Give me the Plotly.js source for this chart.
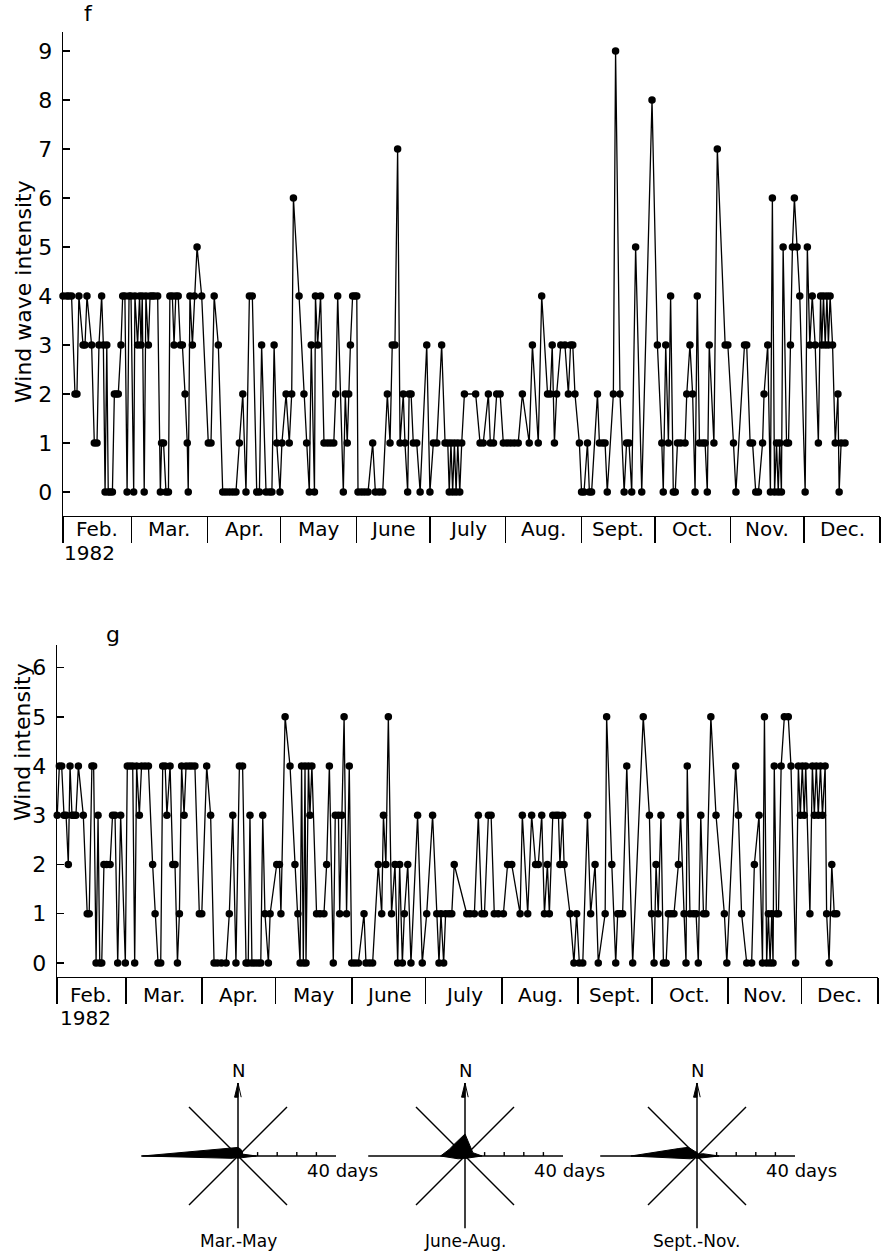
<!DOCTYPE html>
<html><head><meta charset="utf-8">
<script src="https://cdn.plot.ly/plotly-3.0.1.min.js"></script>
<style>html,body{margin:0;padding:0;background:#fff}</style>
</head><body><div id="chart" style="width:893px;height:1251px"></div>
<script>
// ---- categories / tick labels ----
const months = ['Feb.','Mar.','Apr.','May','June','July','Aug.','Sept.','Oct.','Nov.','Dec.'];
const monthEdges = [0,28,59,89,120,150,181,212,242,273,303,334]; // days since 1 Feb 1982
const yearLabel = '1982';

// ---- panel f: wind wave intensity (day since 1 Feb, value) ----
const fDay = [0,1.5,2.4,3.5,4.9,5.7,6.5,8.2,9.0,9.8,
11.7,12.8,13.9,14.7,15.8,16.5,17.2,17.9,18.5,19.3,
20.2,21.0,21.8,22.6,23.7,24.4,25.3,26.2,27.0,27.8,
28.9,29.4,30.5,31.3,31.9,32.4,33.2,33.9,34.9,35.6,
36.5,37.3,38.7,39.8,40.3,41.1,42.1,43.1,43.7,44.7,
45.4,46.1,47.1,48.0,48.8,49.9,50.8,51.2,51.9,52.9,
53.7,54.8,56.7,59.4,60.5,61.8,63.5,
65.3,66.6,68.0,69.4,70.7,72.1,73.5,74.8,76.2,77.4,
79.2,80.3,81.2,83.0,84.4,85.4,86.3,87.4,88.7,89.5,
91.2,92.5,93.5,94.2,96.5,98.5,99.6,100.7,101.5,102.8,
103.2,104.1,105.3,106.7,108.1,109.4,110.7,111.5,112.3,114.6,
115.4,116.2,116.8,117.5,118.4,119.3,120.1,120.6,122.0,123.3,
124.7,126.6,127.7,129.3,130.7,132.6,133.7,
134.6,135.7,136.8,137.8,139.1,139.8,140.9,141.5,142.3,143.2,
144.6,146.0,148.7,150.0,151.4,152.8,154.8,156.2,157.3,157.9,
158.6,159.3,160.0,160.7,161.4,162.2,163.0,164.1,168.7,170.5,
171.8,173.9,174.7,176.0,177.3,178.7,180.0,181.5,183.0,184.5,
186.1,187.8,190.6,191.9,194.3,195.7,198.1,199.2,200.0,200.9,
201.8,
203.5,205.2,206.6,207.5,208.4,209.3,211.1,212.0,213.0,214.4,
215.2,216.1,218.5,219.3,220.6,221.6,222.5,225.0,225.9,227.7,
229.4,230.4,231.4,232.5,234.1,236.6,240.8,243.0,244.8,245.4,
246.4,247.5,248.4,249.5,250.3,251.2,252.5,254.3,255.0,256.3,
257.4,258.4,259.3,260.2,261.5,262.5,263.4,264.2,266.1,267.5,
270.7,271.8,274.1,275.1,278.6,279.5,280.9,281.9,283.2,284.3,
286.0,286.6,288.1,289.2,290.0,290.9,291.7,292.4,293.0,293.7,
294.4,295.8,296.6,297.4,298.2,299.0,300.1,301.2,303.4,304.3,
305.3,306.3,307.5,308.8,309.7,310.2,310.9,311.6,312.3,312.9,
313.6,314.6,315.7,316.8,317.3,318.1,319.7];
const fVal = [4,4,4,4,2,2,4,3,3,4, 3,1,1,3,4,3,0,3,0,0, 0,2,2,2,3,4,4,0,4,4, 0,4,3,4,3,4,0,4,3,4, 4,4,4,0,1,1,0,0,4,4, 3,4,4,3,3,2,1,0,4,3, 4,5,4,1,1,4,3,
0,0,0,0,0,1,2,0,4,4, 0,0,3,0,0,0,3,1,0,1, 2,1,2,6,4,2,1,0,3,0, 4,3,4,1,1,1,1,2,4,0, 2,1,2,3,4,4,4,0,0,0, 0,1,0,0,0,2,1,
3,3,7,1,2,1,0,2,2,1, 1,0,3,0,1,1,3,1,1,0, 1,0,1,0,1,0,1,2,2,1, 1,2,1,1,2,2,1,1,1,1, 1,2,1,3,1,4,2,2,3,1, 2,
3,3,2,3,3,2,1,0,0,1, 0,0,2,1,1,1,0,2,9,2, 0,1,1,0,5,0,8,3,1,0, 3,1,4,0,0,1,1,1,2,3, 2,0,4,1,1,1,0,3,1,7,
3,3,1,0,3,3,1,1,0,0, 1,2,3,0,6,0,1,0,1,0, 5,1,1,3,5,6,5,4,0,5, 3,4,3,1,4,3,4,3,4,3, 4,3,1,2,0,1,1];

// ---- panel g: wind intensity ----
const gDay = [0.1,0.95,1.9,2.85,3.7,4.6,5.3,6.1,6.9,7.7,
8.7,10.7,12.3,13.1,14.2,14.9,15.9,16.7,17.4,18.2,
19.1,20.2,21.6,22.6,23.6,24.7,25.9,27.8,28.6,29.7,
30.8,31.6,32.4,33.5,34.4,35.8,37.2,38.9,39.9,41.1,
42.2,43.0,44.0,44.7,46.0,47.1,48.0,49.0,49.8,50.7,
51.7,52.5,53.8,54.9,56.1,57.9,58.9,60.9,62.5,63.9,
65.2,66.9,68.8,70.1,
71.5,72.8,74.2,75.5,76.9,77.8,78.5,79.3,80.5,81.8,
82.9,83.7,84.6,86.0,86.7,89.4,90.5,91.1,92.8,94.8,
96.8,98.0,98.9,99.5,100.2,100.9,101.3,102.3,102.9,103.7,
105.6,107.0,108.6,109.7,110.8,112.4,113.2,114.5,115.0,115.9,
116.8,117.8,118.9,119.9,121.2,122.6,124.9,125.7,127.1,128.4,
130.7,132.1,132.8,133.8,134.8,136.1,137.5,
138.6,139.4,140.5,141.3,142.7,144.0,146.7,148.6,150.4,152.8,
154.5,155.4,156.2,157.3,158.1,159.5,160.6,161.6,166.7,168.0,
169.8,171.4,172.8,173.9,175.5,176.6,177.9,179.5,181.6,183.3,
185.0,188.4,189.3,191.5,193.1,194.7,195.8,197.2,198.3,199.5,
200.3,201.7,203.0,
204.0,204.6,205.7,206.3,208.7,210.3,211.4,212.5,213.9,215.8,
217.1,218.9,220.2,223.0,223.6,225.7,227.3,228.1,229.0,230.1,
231.8,234.2,238.5,241.0,241.9,242.9,243.7,244.6,245.7,246.7,
247.8,248.7,249.8,251.0,252.8,253.7,255.1,255.9,256.4,257.5,
258.9,260.0,260.9,261.9,263.0,264.0,266.0,268.1,
271.5,272.5,276.1,277.2,278.5,280.6,282.6,283.7,285.6,287.0,
287.8,288.7,289.4,290.1,290.8,291.3,291.8,292.7,293.5,294.6,
295.9,297.5,298.6,300.5,301.6,302.4,303.2,304.0,304.6,306.3,
307.3,308.1,308.9,309.7,310.6,311.4,312.5,313.1,314.1,315.2,
316.2,317.2];
const gVal = [3,4,4,3,3,2,4,3,3,3, 4,3,1,1,4,4,0,3,0,0, 2,2,2,3,3,0,3,0,4,4, 4,0,4,3,4,4,4,2,1,0, 0,4,4,3,4,2,2,0,1,4, 3,4,4,4,4,1,1,4,3,0, 0,0,0,1,
3,0,4,4,0,0,3,0,0,0, 0,3,1,0,1,2,2,1,5,4, 2,1,0,4,0,4,0,4,3,4, 1,1,1,2,4,0,3,3,1,3, 5,1,4,0,0,0,1,0,0,0, 2,1,3,2,5,1,2,
0,2,0,1,2,0,3,0,1,3, 1,0,1,0,1,1,1,2,1,1, 1,3,1,1,3,3,1,1,1,2, 2,1,3,1,3,2,2,3,1,2, 1,3,3,
3,2,3,2,1,0,1,0,0,3, 1,2,0,1,5,2,0,1,1,1, 4,0,5,3,1,0,2,1,3,0, 0,1,1,1,2,3,1,0,4,1, 1,1,0,3,1,1,5,3,
1,0,4,3,1,0,0,2,3,0, 5,0,1,0,1,0,4,1,1,4, 5,5,4,0,4,3,4,3,4,1, 4,3,4,3,4,3,4,1,0,2, 1,1];

// ---- wind roses: days per direction (16 points, clockwise from N) ----
const roseDirs = ['N','NNE','NE','ENE','E','ESE','SE','SSE','S','SSW','SW','WSW','W','WNW','NW','NNW'];
const roseSeasons = ['Mar.-May','June-Aug.','Sept.-Nov.'];
const roseMarMay  = [3.5,3,2.5,2,7.5,1.5,1,1,1,1,1,2.5,39,7.5,4.5,3.5];
const roseJunAug  = [9,5,4,3.5,7,2,1.5,1,1,1,1.5,3,10,7,6.5,7];
const roseSepNov  = [1.5,1,1,2.5,9,2,1,1,1,1,1,3,27,8,5,2];
const roseScaleDays = 40;

// ---------------- drawing ----------------
const W = 893, H = 1251;
const PX = x => x / W, PY = y => 1 - y / H;
const FONT = 'DejaVu Sans';
const BLACK = '#000';

function mids(e){ const m=[]; for(let i=0;i<e.length-1;i++) m.push((e[i]+e[i+1])/2); return m; }

function timeX(domainPx, anchor){
  return {domain:[PX(domainPx[0]),PX(domainPx[1])], range:[0,334], anchor:anchor,
    showline:true, linecolor:BLACK, linewidth:1.4, showgrid:false, zeroline:false,
    tickmode:'array', tickvals:monthEdges, ticks:'outside', ticklen:26, tickwidth:1.4, tickcolor:BLACK,
    showticklabels:false, fixedrange:true};
}
function valY(domainPx, range, n, anchor){
  const tv=[]; for(let i=0;i<=n;i++) tv.push(i);
  return {domain:[PY(domainPx[1]),PY(domainPx[0])], range:range, anchor:anchor,
    showline:true, linecolor:BLACK, linewidth:1.4, showgrid:false, zeroline:false,
    tickmode:'array', tickvals:tv, ticks:'inside', ticklen:7, tickwidth:1.4, tickcolor:BLACK,
    ticklabelstandoff:5, tickfont:{family:FONT,size:22,color:BLACK}, fixedrange:true};
}

const traces = [
  {x:fDay, y:fVal, xaxis:'x', yaxis:'y', type:'scatter', mode:'lines+markers', cliponaxis:false,
   line:{color:BLACK,width:1.3}, marker:{color:BLACK,size:7.5}, hoverinfo:'skip'},
  {x:gDay, y:gVal, xaxis:'x2', yaxis:'y2', type:'scatter', mode:'lines+markers', cliponaxis:false,
   line:{color:BLACK,width:1.3}, marker:{color:BLACK,size:7.5}, hoverinfo:'skip'}
];

const roses = [roseMarMay, roseJunAug, roseSepNov];
const roseCenters = [238, 465, 697];
const layout = {
  width:W, height:H, margin:{l:0,r:0,t:0,b:0}, paper_bgcolor:'#fff', plot_bgcolor:'rgba(0,0,0,0)',
  showlegend:false, font:{family:FONT,color:BLACK},
  xaxis: timeX([63,880],'y'),
  yaxis: valY([32,516], [-0.49, 9.39], 9, 'x'),
  xaxis2: timeX([57,878],'y2'),
  yaxis2: valY([645,977], [-0.285, 6.46], 6, 'x2'),
  annotations:[
    {text:'f', xref:'paper', yref:'paper', x:PX(88), y:PY(14), xanchor:'center', yanchor:'middle', showarrow:false, font:{size:22}},
    {text:'g', xref:'paper', yref:'paper', x:PX(113), y:PY(634), xanchor:'center', yanchor:'middle', showarrow:false, font:{size:22}},
    {text:'Wind wave intensity', xref:'paper', yref:'paper', x:PX(24), y:PY(292), xanchor:'center', yanchor:'middle', textangle:-90, showarrow:false, font:{size:22}},
    {text:'Wind intensity', xref:'paper', yref:'paper', x:PX(22), y:PY(742), xanchor:'center', yanchor:'middle', textangle:-90, showarrow:false, font:{size:22}},
    {text:yearLabel, xref:'paper', yref:'paper', x:PX(89), y:PY(553), xanchor:'center', yanchor:'middle', showarrow:false, font:{size:20}},
    {text:yearLabel, xref:'paper', yref:'paper', x:PX(85), y:PY(1018), xanchor:'center', yanchor:'middle', showarrow:false, font:{size:20}}
  ]
};

// month names inside the label band of each time axis
mids(monthEdges).forEach((m,i) => {
  layout.annotations.push({text:months[i], xref:'x', yref:'paper', x:m, y:PY(529), xanchor:'center', yanchor:'middle', showarrow:false, font:{size:20}});
  layout.annotations.push({text:months[i], xref:'x2', yref:'paper', x:m, y:PY(995), xanchor:'center', yanchor:'middle', showarrow:false, font:{size:20}});
});

const PXPERDAY = 2.45;
roses.forEach((counts, i) => {
  const n = i + 3, xa = 'x' + n, ya = 'y' + n;
  const c = roseCenters[i];
  layout['xaxis' + n] = {domain:[PX(c-110),PX(c+110)], range:[-110/PXPERDAY,110/PXPERDAY], visible:false, anchor:ya, fixedrange:true};
  layout['yaxis' + n] = {domain:[0,PY(1050)], range:[-(H-1156)/PXPERDAY,(1156-1050)/PXPERDAY], visible:false, anchor:xa, fixedrange:true};
  // rose polygon
  const px=[], py=[];
  counts.forEach((r,k)=>{ const a = k*22.5*Math.PI/180; px.push(r*Math.sin(a)); py.push(r*Math.cos(a)); });
  px.push(px[0]); py.push(py[0]);
  traces.push({x:px, y:py, xaxis:xa, yaxis:ya, type:'scatter', mode:'lines', fill:'toself',
    fillcolor:BLACK, line:{color:BLACK,width:1}, hoverinfo:'skip'});
  // compass frame
  traces.push({x:[-39.5,roseScaleDays,null,0,0,null,-20,20,null,-20,20],
               y:[0,0,null,-29.5,29.8,null,20,-20,null,-20,20],
               xaxis:xa, yaxis:ya, type:'scatter', mode:'lines', line:{color:BLACK,width:1.5}, hoverinfo:'skip'});
  // scale ticks on east arm
  const tx=[], ty=[];
  for (let d=8; d<roseScaleDays; d+=8){ tx.push(d,d,null); ty.push(0,1.6,null); }
  traces.push({x:tx, y:ty, xaxis:xa, yaxis:ya, type:'scatter', mode:'lines', line:{color:BLACK,width:1.4}, hoverinfo:'skip'});
  // north arrow flag
  traces.push({x:[0,-1.4,0,0,1.3], y:[29.8,24,24,29.8,24], xaxis:xa, yaxis:ya, type:'scatter', mode:'lines',
    fill:'toself', fillcolor:BLACK, line:{color:BLACK,width:1}, hoverinfo:'skip'});
  layout.annotations.push(
    {text:'N', xref:xa, yref:ya, x:0, y:35, showarrow:false, font:{size:18}},
    {text:roseScaleDays + ' days', xref:xa, yref:ya, x:42.5, y:-5.8, showarrow:false, font:{size:18}},
    {text:roseSeasons[i], xref:xa, yref:ya, x:0, y:-34.5, showarrow:false, font:{size:17}}
  );
});

Plotly.newPlot('chart', traces, layout, {staticPlot:true, displayModeBar:false});
</script></body></html>
